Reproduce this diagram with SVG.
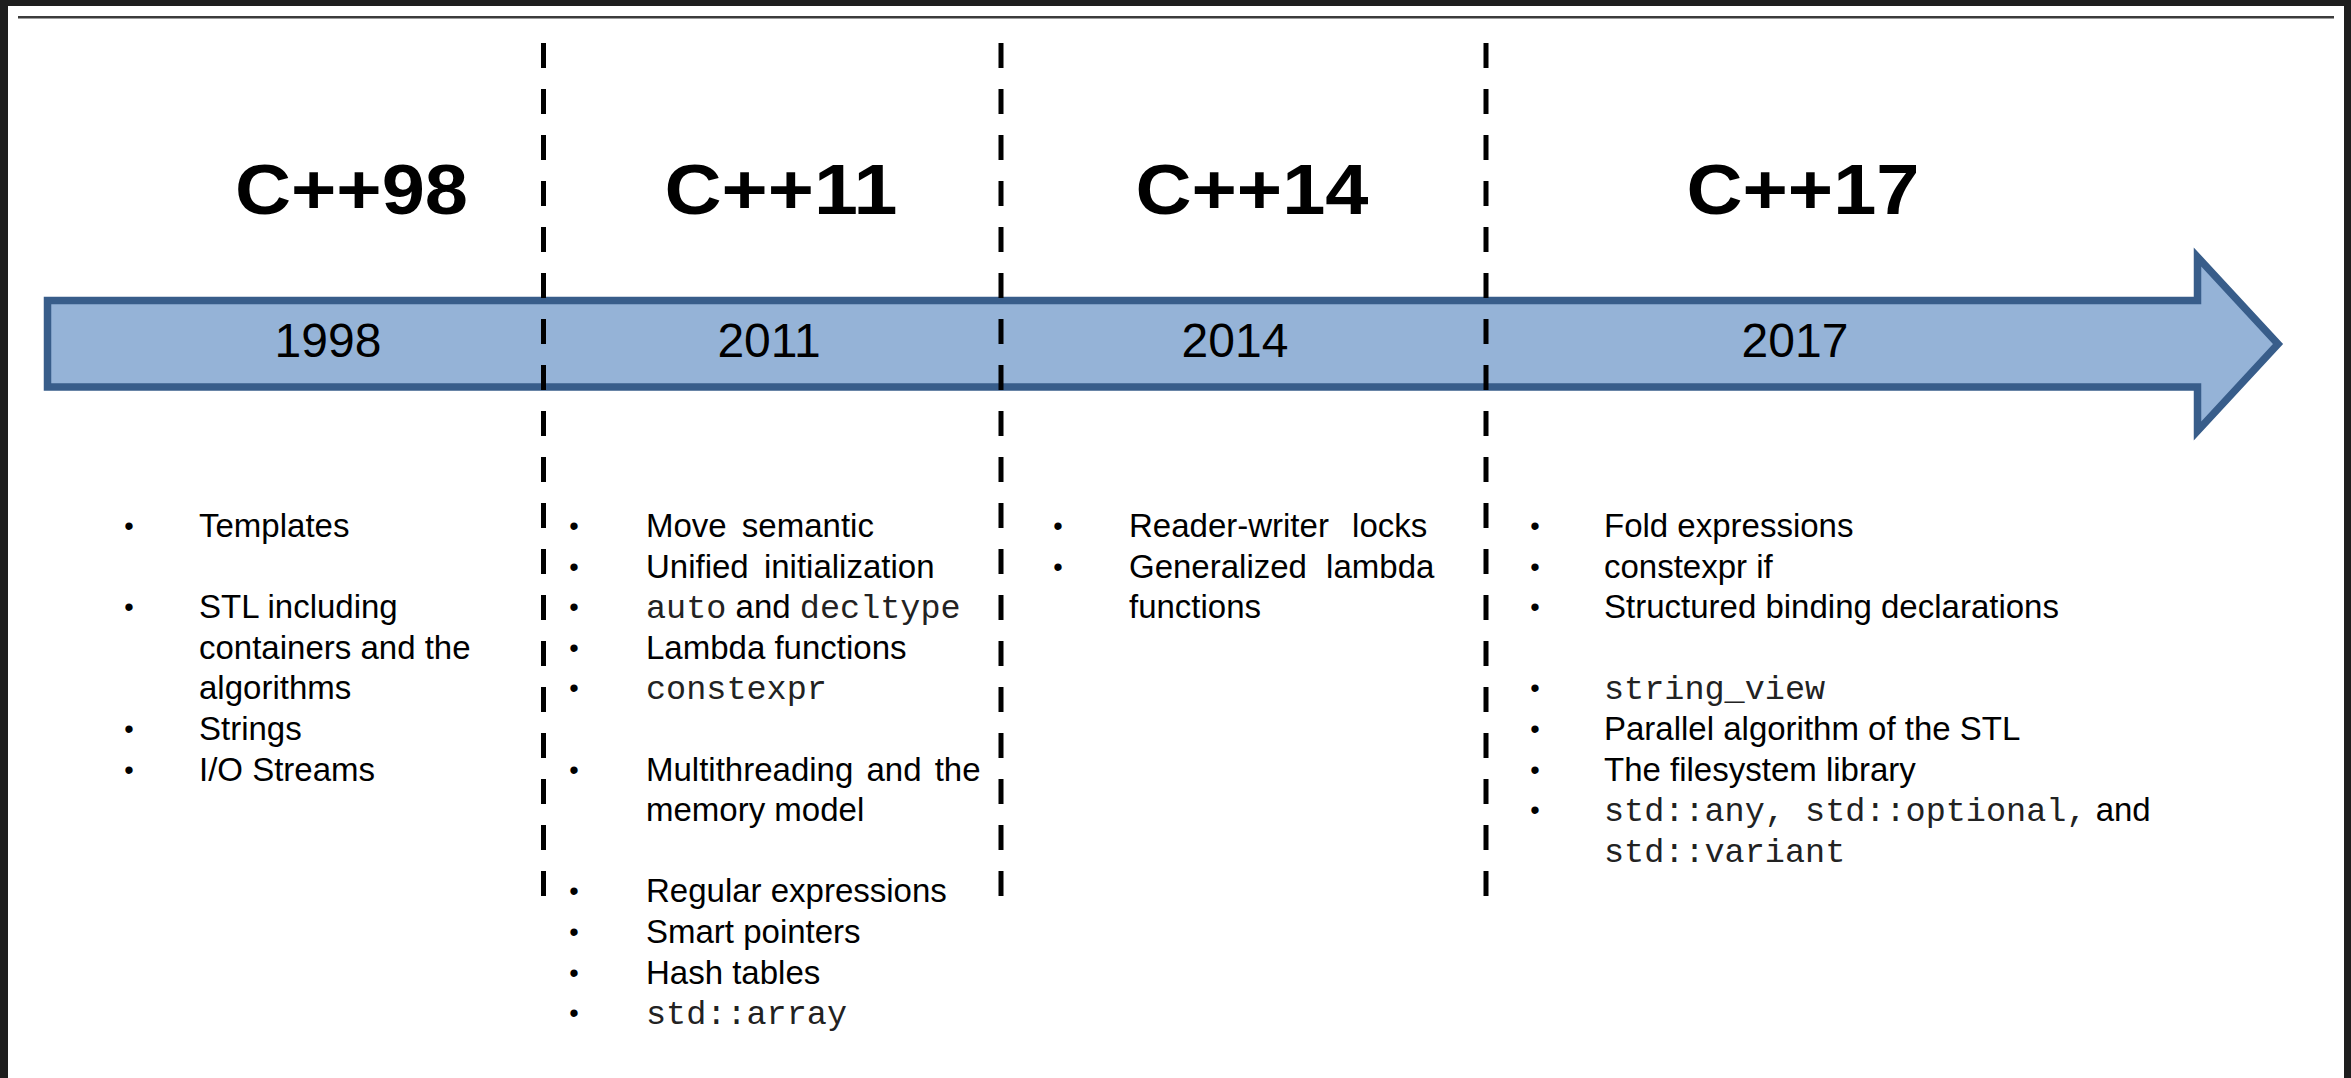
<svg xmlns="http://www.w3.org/2000/svg" width="2351" height="1078" viewBox="0 0 2351 1078">
  <style>
    .title { font-family: "Liberation Sans", Arial, sans-serif; font-weight: bold; font-size: 70px; fill: #000; text-anchor: middle; }
    .year { font-family: "Liberation Sans", Arial, sans-serif; font-size: 48px; fill: #000; text-anchor: middle; }
    .body { font-family: "Liberation Sans", Arial, sans-serif; font-size: 33px; fill: #000; }
    .bullet { font-family: "Liberation Sans", Arial, sans-serif; font-size: 27px; fill: #000; text-anchor: middle; }
    .mono { font-family: "Liberation Mono", "Courier New", monospace; font-size: 33.5px; fill: #222; }
    .divider { stroke: #000; stroke-width: 5; stroke-dasharray: 25 21; fill: none; }
  </style>
  <rect x="0" y="0" width="2351" height="1078" fill="#1e1e1e"/>
  <rect x="8" y="6" width="2336" height="1072" fill="#ffffff"/>
  <rect x="18" y="16" width="2316" height="2.5" fill="#3c3c3c"/>

  <g id="timeline-arrow">
    <polygon points="47.5,300.5 2197.5,300.5 2197.5,257 2278,344 2197.5,431 2197.5,387 47.5,387" fill="#95b3d7" stroke="#385d8a" stroke-width="7.5" stroke-miterlimit="10"/>
  </g>

  <g id="connectors">
    <line class="divider" x1="543.5" y1="43" x2="543.5" y2="897"/>
    <line class="divider" x1="1001" y1="43" x2="1001" y2="897"/>
    <line class="divider" x1="1486" y1="43" x2="1486" y2="897"/>
  </g>

  <g id="era-cpp98">
    <text class="title" x="351.5" y="214" textLength="233" lengthAdjust="spacingAndGlyphs">C++98</text>
    <text class="year" x="328" y="357">1998</text>
    <g class="bullets">
      <text class="bullet" x="129" y="535">•</text>
      <text class="bullet" x="129" y="616.2">•</text>
      <text class="bullet" x="129" y="738">•</text>
      <text class="bullet" x="129" y="778.6">•</text>
    </g>
    <text class="body" x="199" y="537">Templates</text>
    <text class="body" x="199" y="618.2">STL including</text>
    <text class="body" x="199" y="658.8">containers and the</text>
    <text class="body" x="199" y="699.4">algorithms</text>
    <text class="body" x="199" y="740">Strings</text>
    <text class="body" x="199" y="780.6">I/O Streams</text>
  </g>

  <g id="era-cpp11">
    <text class="title" x="781" y="214" textLength="233" lengthAdjust="spacingAndGlyphs">C++11</text>
    <text class="year" x="769" y="357">2011</text>
    <g class="bullets">
      <text class="bullet" x="574" y="535">•</text>
      <text class="bullet" x="574" y="575.6">•</text>
      <text class="bullet" x="574" y="616.2">•</text>
      <text class="bullet" x="574" y="656.8">•</text>
      <text class="bullet" x="574" y="697.4">•</text>
      <text class="bullet" x="574" y="778.6">•</text>
      <text class="bullet" x="574" y="900.4">•</text>
      <text class="bullet" x="574" y="941">•</text>
      <text class="bullet" x="574" y="981.6">•</text>
      <text class="bullet" x="574" y="1022.2">•</text>
    </g>
    <text class="body" x="646" y="537" word-spacing="6">Move semantic</text>
    <text class="body" x="646" y="577.6" word-spacing="6">Unified initialization</text>
    <text class="body" x="646" y="618.2"><tspan class="mono">auto</tspan> and <tspan class="mono">decltype</tspan></text>
    <text class="body" x="646" y="658.8">Lambda functions</text>
    <text class="mono" x="646" y="699.4">constexpr</text>
    <text class="body" x="646" y="780.6" word-spacing="4">Multithreading and the</text>
    <text class="body" x="646" y="821.2">memory model</text>
    <text class="body" x="646" y="902.4">Regular expressions</text>
    <text class="body" x="646" y="943">Smart pointers</text>
    <text class="body" x="646" y="983.6">Hash tables</text>
    <text class="mono" x="646" y="1024.2">std::array</text>
  </g>

  <g id="era-cpp14">
    <text class="title" x="1252" y="214" textLength="233" lengthAdjust="spacingAndGlyphs">C++14</text>
    <text class="year" x="1235" y="357">2014</text>
    <g class="bullets">
      <text class="bullet" x="1058" y="535">•</text>
      <text class="bullet" x="1058" y="575.6">•</text>
    </g>
    <text class="body" x="1129" y="537" word-spacing="14">Reader-writer locks</text>
    <text class="body" x="1129" y="577.6" word-spacing="10">Generalized lambda</text>
    <text class="body" x="1129" y="618.2">functions</text>
  </g>

  <g id="era-cpp17">
    <text class="title" x="1803" y="214" textLength="233" lengthAdjust="spacingAndGlyphs">C++17</text>
    <text class="year" x="1795" y="357">2017</text>
    <g class="bullets">
      <text class="bullet" x="1535" y="535">•</text>
      <text class="bullet" x="1535" y="575.6">•</text>
      <text class="bullet" x="1535" y="616.2">•</text>
      <text class="bullet" x="1535" y="697.4">•</text>
      <text class="bullet" x="1535" y="738">•</text>
      <text class="bullet" x="1535" y="778.6">•</text>
      <text class="bullet" x="1535" y="819.2">•</text>
    </g>
    <text class="body" x="1604" y="537">Fold expressions</text>
    <text class="body" x="1604" y="577.6">constexpr if</text>
    <text class="body" x="1604" y="618.2">Structured binding declarations</text>
    <text class="mono" x="1604" y="699.4">string_view</text>
    <text class="body" x="1604" y="740">Parallel algorithm of the STL</text>
    <text class="body" x="1604" y="780.6">The filesystem library</text>
    <text class="body" x="1604" y="821.2"><tspan class="mono">std::any, std::optional,</tspan> and</text>
    <text class="mono" x="1604" y="861.8">std::variant</text>
  </g>
</svg>
